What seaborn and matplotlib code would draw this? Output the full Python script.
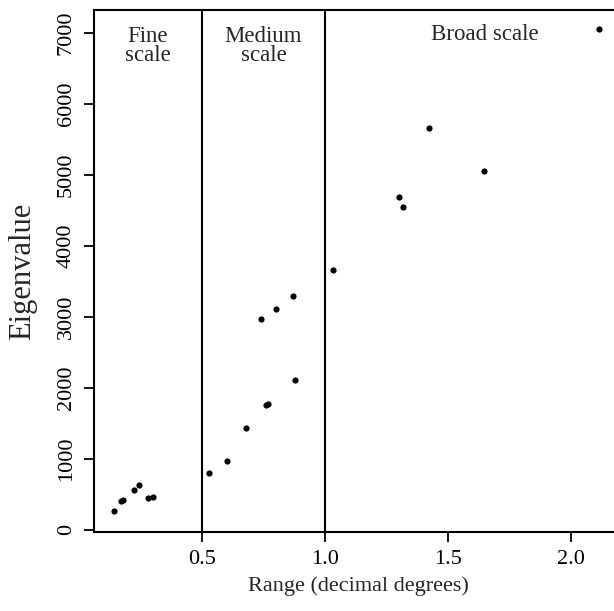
import pandas as pd
import seaborn as sns
import matplotlib.pyplot as plt

# values
range_deg = [0.143, 0.172, 0.179, 0.222, 0.244, 0.279, 0.302,
             0.528, 0.603, 0.678, 0.762, 0.767, 0.877, 0.739, 0.800, 0.870,
             1.034, 1.302, 1.316, 1.423, 1.646, 2.113]
eigenvalue = [263, 405, 418, 558, 629, 450, 464,
              802, 970, 1439, 1760, 1778, 2105, 2968, 3108, 3291,
              3661, 4693, 4543, 5658, 5059, 7059]
scale_breaks = [0.5, 1.0]
x_ticks = [0.5, 1.0, 1.5, 2.0]
y_ticks = [0, 1000, 2000, 3000, 4000, 5000, 6000, 7000]

df = pd.DataFrame({"range": range_deg, "eigen": eigenvalue})

sns.set_style("ticks")
plt.rcParams['font.family'] = ['Liberation Serif', 'DejaVu Serif']

fig = plt.figure(figsize=(6.14, 6.11), dpi=100)
ax = fig.add_axes([94 / 614, (611 - 532) / 611, (622 - 94) / 614, (532 - 10) / 611])

sns.scatterplot(data=df, x="range", y="eigen", ax=ax, color="black",
                s=20, edgecolor="black", linewidth=0)

for b in scale_breaks:
    ax.axvline(b, color="black", lw=1.5)

ax.set_xlim(0.061, 2.207)
ax.set_ylim(-30, 7320)
ax.set_xticks(x_ticks)
ax.set_xticklabels([f"{t:.1f}" for t in x_ticks])
ax.set_yticks(y_ticks)
ax.set_yticklabels([str(t) for t in y_ticks], rotation=90, va="center")
ax.tick_params(axis="both", direction="out", length=7, width=1.3,
               labelsize=16, colors="black", pad=6)
for sp in ax.spines.values():
    sp.set_linewidth(1.5)
    sp.set_color("black")

ax.set_xlabel("Range (decimal degrees)", fontsize=16, labelpad=5)
ax.set_ylabel("Eigenvalue", fontsize=22, labelpad=14)

ax.text(0.28, 6810, "Fine\nscale", ha="center", va="center", fontsize=16.5,
        linespacing=0.85)
ax.text(0.75, 6810, "Medium\nscale", ha="center", va="center", fontsize=16.5,
        linespacing=0.85)
ax.text(1.65, 6980, "Broad scale", ha="center", va="center", fontsize=16.5)

fig.savefig("out.png", dpi=100)
